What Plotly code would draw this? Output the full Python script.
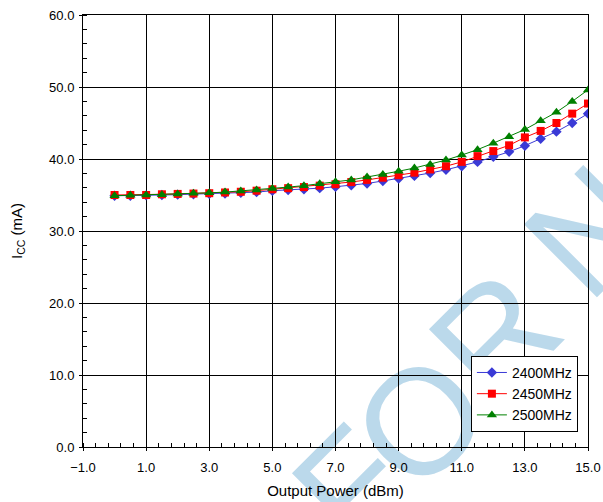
import plotly.graph_objects as go

power_dbm = [0, 0.5, 1, 1.5, 2, 2.5, 3, 3.5, 4, 4.5, 5, 5.5, 6, 6.5, 7, 7.5,
             8, 8.5, 9, 9.5, 10, 10.5, 11, 11.5, 12, 12.5, 13, 13.5, 14, 14.5, 15]
icc_2400 = [34.9, 34.9, 34.95, 35.0, 35.05, 35.1, 35.15, 35.2, 35.3, 35.4, 35.6,
            35.7, 35.8, 35.95, 36.15, 36.35, 36.6, 36.95, 37.3, 37.65, 38.05,
            38.5, 39.0, 39.6, 40.3, 41.0, 41.85, 42.8, 43.8, 45.0, 46.3]
icc_2450 = [35.0, 35.0, 35.0, 35.1, 35.15, 35.2, 35.25, 35.35, 35.45, 35.6, 35.8,
            35.95, 36.1, 36.3, 36.5, 36.8, 37.1, 37.4, 37.75, 38.1, 38.55,
            39.0, 39.6, 40.4, 41.1, 41.9, 43.0, 43.9, 45.0, 46.3, 47.7]
icc_2500 = [34.9, 34.95, 35.0, 35.05, 35.15, 35.25, 35.3, 35.4, 35.55, 35.7, 35.9,
            36.1, 36.3, 36.55, 36.85, 37.1, 37.5, 37.85, 38.3, 38.75, 39.25,
            39.85, 40.55, 41.3, 42.2, 43.1, 44.1, 45.3, 46.5, 48.0, 49.6]
series_names = ["2400MHz", "2450MHz", "2500MHz"]
x_ticks = [-1, 1, 3, 5, 7, 9, 11, 13, 15]
y_ticks = [0, 10, 20, 30, 40, 50, 60]

# watermark letters "FOR N" (paper coordinates of each letter centre)
wm_letters = ["F", "O", "R", "N"]
wm_x = [0.513, 0.648, 0.796, 0.984]
wm_y = [-0.067, 0.083, 0.280, 0.523]

styles = [
    dict(color="#3A3AD6", symbol="diamond", size=8),
    dict(color="#FF0000", symbol="square", size=8),
    dict(color="#008000", symbol="triangle-up", size=9),
]

fig = go.Figure()
for name, ys, st in zip(series_names, [icc_2400, icc_2450, icc_2500], styles):
    fig.add_trace(go.Scatter(
        x=power_dbm, y=ys, name=name, mode="lines+markers",
        line=dict(color=st["color"], width=1),
        marker=dict(color=st["color"], symbol=st["symbol"], size=st["size"],
                    line=dict(width=0)),
    ))

font = "Liberation Sans, Arial, sans-serif"

fig.update_layout(
    width=603, height=502,
    margin=dict(l=83, r=15, t=15, b=55),
    paper_bgcolor="white", plot_bgcolor="white",
    font=dict(family=font, size=13, color="black"),
    showlegend=True,
    legend=dict(x=0.98, y=0.035, xanchor="right", yanchor="bottom",
                bgcolor="white", bordercolor="black", borderwidth=1,
                font=dict(family=font, size=14, color="black"),
                itemwidth=30, tracegroupgap=0),
    xaxis=dict(range=[-1, 15], tickvals=x_ticks, tickformat=".1f",
               automargin=False, ticklabelstandoff=5,
               showgrid=True, gridcolor="black", gridwidth=1,
               showline=True, linecolor="black", linewidth=1, mirror=True,
               ticks="outside", ticklen=3, tickcolor="black",
               minor=dict(tick0=-1, dtick=0.4, ticks="inside", ticklen=4,
                          tickcolor="black", showgrid=False),
               zeroline=False,
               title=dict(text="Output Power (dBm)", font=dict(size=15), standoff=11)),
    yaxis=dict(range=[0, 60], tickvals=y_ticks, tickformat=".1f",
               automargin=False, ticklabelstandoff=2,
               showgrid=True, gridcolor="black", gridwidth=1,
               showline=True, linecolor="black", linewidth=1, mirror=True,
               ticks="outside", ticklen=3, tickcolor="black",
               minor=dict(tick0=0, dtick=2, ticks="inside", ticklen=4,
                          tickcolor="black", showgrid=False),
               zeroline=False,
               title=dict(text="I<sub>CC</sub> (mA)", font=dict(size=15), standoff=22)),
)

# watermark, drawn between gridlines and traces (legend stays on top)
for ch, wx, wy in zip(wm_letters, wm_x, wm_y):
    fig.add_shape(
        type="line", xref="paper", yref="paper",
        x0=wx - 0.001, y0=wy, x1=wx + 0.001, y1=wy,
        line=dict(width=0, color="rgba(0,0,0,0)"), layer="between",
        label=dict(text=ch, textposition="middle", textangle=-45,
                   xanchor="center", yanchor="middle", padding=0,
                   font=dict(family=font, size=150, color="rgba(120,180,215,0.5)")),
    )

fig.write_html("out.html", config={"displayModeBar": False},
               post_script="document.body.style.margin='0';")
